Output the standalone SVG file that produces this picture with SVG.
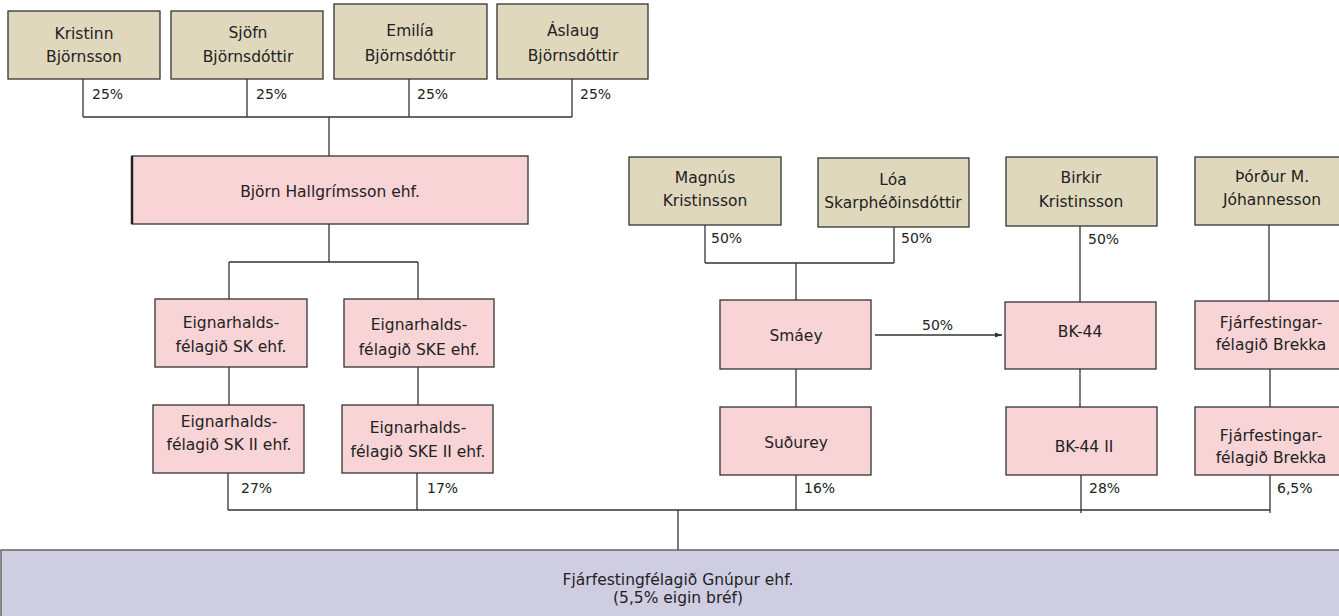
<svg xmlns="http://www.w3.org/2000/svg" width="1339" height="616" viewBox="0 0 1339 616">
<defs>
<style>
.tan{fill:#e0d8bd;stroke:#333;stroke-width:1.3}
.pink{fill:#f9d4d6;stroke:#333;stroke-width:1.3}
.lav{fill:#cfcde2;stroke:#666;stroke-width:1.5}
text{font-family:"DejaVu Sans","Noto Sans",sans-serif;font-size:15.5px;fill:#222;text-anchor:middle}
.pct{font-size:14px;text-anchor:start}
.c line{stroke:#333;stroke-width:1.3}
</style>
<marker id="ah" viewBox="0 0 10 10" refX="10" refY="5" markerWidth="7" markerHeight="7" orient="auto" markerUnits="userSpaceOnUse"><path d="M0,1.5 L10,5 L0,8.5 z" fill="#333"/></marker>
</defs>
<rect width="1339" height="616" fill="#fff"/>

<g id="connectors" class="c">
<line x1="83" y1="79" x2="83" y2="117"/>
<line x1="247" y1="79" x2="247" y2="117"/>
<line x1="409" y1="79" x2="409" y2="117"/>
<line x1="572" y1="79" x2="572" y2="117"/>
<line x1="83" y1="117" x2="572" y2="117"/>
<line x1="329" y1="117" x2="329" y2="156"/>
<line x1="329" y1="224" x2="329" y2="262"/>
<line x1="229" y1="262" x2="418" y2="262"/>
<line x1="229" y1="262" x2="229" y2="299"/>
<line x1="418" y1="262" x2="418" y2="299"/>
<line x1="229" y1="367" x2="229" y2="405"/>
<line x1="418" y1="367" x2="418" y2="405"/>
<line x1="705" y1="225" x2="705" y2="263"/>
<line x1="894" y1="227" x2="894" y2="263"/>
<line x1="705" y1="263" x2="894" y2="263"/>
<line x1="796" y1="263" x2="796" y2="300"/>
<line x1="796" y1="369" x2="796" y2="407"/>
<line x1="875" y1="335" x2="1002" y2="335" marker-end="url(#ah)"/>
<line x1="1080" y1="226" x2="1080" y2="302"/>
<line x1="1080" y1="369" x2="1080" y2="407"/>
<line x1="1269" y1="225" x2="1269" y2="301"/>
<line x1="1270" y1="369" x2="1270" y2="407"/>
<line x1="228" y1="473" x2="228" y2="510"/>
<line x1="417" y1="473" x2="417" y2="510"/>
<line x1="796" y1="475" x2="796" y2="510"/>
<line x1="1081" y1="475" x2="1081" y2="513"/>
<line x1="1270" y1="475" x2="1270" y2="513"/>
<line x1="228" y1="510" x2="1270" y2="510"/>
<line x1="678" y1="510" x2="678" y2="550"/>
<text class="pct" x="92" y="99">25%</text>
<text class="pct" x="256" y="99">25%</text>
<text class="pct" x="417" y="99">25%</text>
<text class="pct" x="580" y="99">25%</text>
<text class="pct" x="711" y="243">50%</text>
<text class="pct" x="901" y="243">50%</text>
<text class="pct" x="1088" y="244">50%</text>
<text class="pct" x="922" y="330">50%</text>
<text class="pct" x="241" y="493">27%</text>
<text class="pct" x="427" y="493">17%</text>
<text class="pct" x="804" y="493">16%</text>
<text class="pct" x="1089" y="493">28%</text>
<text class="pct" x="1277" y="493">6,5%</text>
</g>

<g id="kristinn"><rect class="tan" x="8" y="11" width="152" height="68"/><text x="84" y="39">Kristinn</text><text x="84" y="62">Björnsson</text></g>
<g id="sjofn"><rect class="tan" x="171" y="11" width="152" height="68"/><text x="248" y="38">Sjöfn</text><text x="248" y="62">Björnsdóttir</text></g>
<g id="emilia"><rect class="tan" x="334" y="4" width="153" height="75"/><text x="410" y="36">Emilía</text><text x="410" y="61">Björnsdóttir</text></g>
<g id="aslaug"><rect class="tan" x="497" y="4" width="151" height="75"/><text x="573" y="36">Áslaug</text><text x="573" y="61">Björnsdóttir</text></g>

<g id="bjorn"><rect class="pink" x="132" y="156" width="396" height="68"/><line x1="132" y1="156" x2="132" y2="224" stroke="#222" stroke-width="2.5"/><text x="330" y="197">Björn Hallgrímsson ehf.</text></g>

<g id="sk"><rect class="pink" x="155" y="299" width="152" height="68"/><text x="231" y="328">Eignarhalds-</text><text x="231" y="352">félagið SK ehf.</text></g>
<g id="ske"><rect class="pink" x="344" y="299" width="150" height="68"/><text x="419" y="330">Eignarhalds-</text><text x="419" y="355">félagið SKE ehf.</text></g>
<g id="sk2"><rect class="pink" x="153" y="405" width="151" height="68"/><text x="229" y="427">Eignarhalds-</text><text x="229" y="450">félagið SK II ehf.</text></g>
<g id="ske2"><rect class="pink" x="342" y="405" width="151" height="68"/><text x="418" y="433">Eignarhalds-</text><text x="418" y="457">félagið SKE II ehf.</text></g>

<g id="magnus"><rect class="tan" x="629" y="157" width="152" height="68"/><text x="705" y="183">Magnús</text><text x="705" y="206">Kristinsson</text></g>
<g id="loa"><rect class="tan" x="818" y="158" width="151" height="69"/><text x="893" y="185">Lóa</text><text x="893" y="208">Skarphéðinsdóttir</text></g>
<g id="smaey"><rect class="pink" x="720" y="300" width="151" height="69"/><text x="796" y="341">Smáey</text></g>
<g id="sudurey"><rect class="pink" x="720" y="407" width="151" height="68"/><text x="796" y="448">Suðurey</text></g>

<g id="birkir"><rect class="tan" x="1006" y="157" width="151" height="69"/><text x="1081" y="183">Birkir</text><text x="1081" y="207">Kristinsson</text></g>
<g id="bk44"><rect class="pink" x="1005" y="302" width="151" height="67"/><text x="1080" y="337">BK-44</text></g>
<g id="bk44ii"><rect class="pink" x="1006" y="407" width="151" height="68"/><text x="1084" y="452">BK-44 II</text></g>

<g id="thordur"><rect class="tan" x="1195" y="157" width="152" height="68"/><text x="1272" y="182">Þórður M.</text><text x="1272" y="205">Jóhannesson</text></g>
<g id="brekka1"><rect class="pink" x="1195" y="301" width="150" height="68"/><text x="1271" y="328">Fjárfestingar-</text><text x="1271" y="350">félagið Brekka</text></g>
<g id="brekka2"><rect class="pink" x="1195" y="407" width="150" height="68"/><text x="1271" y="441">Fjárfestingar-</text><text x="1271" y="463">félagið Brekka</text></g>

<g id="gnupur"><rect class="lav" x="1" y="550" width="1345" height="70"/><text x="678" y="585">Fjárfestingfélagið Gnúpur ehf.</text><text x="678" y="603">(5,5% eigin bréf)</text></g>
</svg>
